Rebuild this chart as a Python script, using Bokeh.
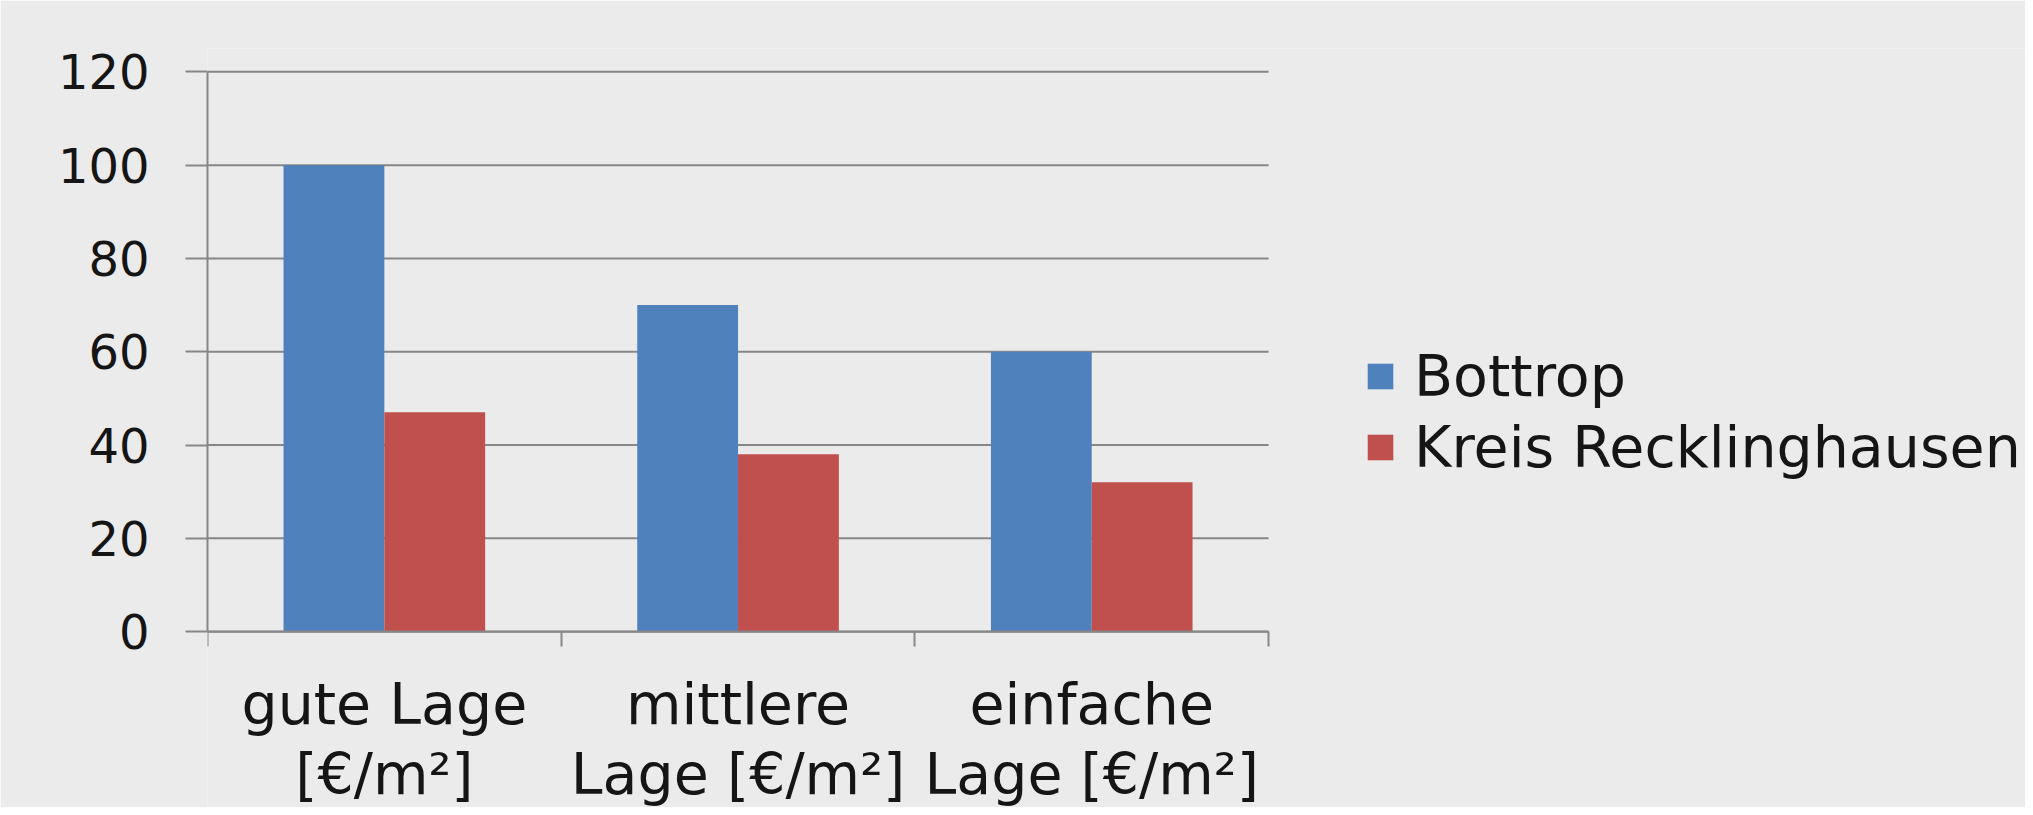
from bokeh.plotting import figure
from bokeh.models import Range1d, FixedTicker, Legend, LegendItem
from bokeh.embed import file_html
from bokeh.resources import INLINE
import numpy as np

# ---- data ----
categories = ["gute Lage\n[€/m²]", "mittlere\nLage [€/m²]", "einfache\nLage [€/m²]"]
series_names = ["Bottrop", "Kreis Recklinghausen"]
bottrop = [100, 70, 60]
recklinghausen = [47, 38, 32]
y_ticks = [0, 20, 40, 60, 80, 100, 120]

# ---- styles ----
BG = "#EBEBEB"
GRID = "#878787"
BLUE = "#4F81BD"
RED = "#C0504D"
FONT = "DejaVu Sans"
TXT = "#151515"

n = len(categories)
centers = np.arange(n) + 0.5
bw = 0.285

# frame spans to the figure bottom; the x axis is pinned at y = 0
p = figure(width=2025, height=807, output_backend="svg", toolbar_location=None,
           x_range=Range1d(0, 5.14), y_range=Range1d(-37.7, 125),
           min_border_left=207, min_border_right=0, min_border_top=48,
           min_border_bottom=0)
p.background_fill_color = BG
p.border_fill_color = BG
p.outline_line_color = None

# horizontal grid lines spanning only the category area
p.xgrid.grid_line_color = None
p.ygrid.grid_line_color = None
p.segment(x0=[0] * len(y_ticks), x1=[n] * len(y_ticks), y0=y_ticks, y1=y_ticks,
          line_color=GRID, line_width=2, level="underlay")

r1 = p.vbar(x=centers - bw / 2, top=bottrop, width=bw, fill_color=BLUE, line_color=None)
r2 = p.vbar(x=centers + bw / 2, top=recklinghausen, width=bw, fill_color=RED, line_color=None)

# y axis
ya = p.yaxis[0]
ya.ticker = FixedTicker(ticks=y_ticks)
ya.bounds = (0, max(y_ticks))
ya.axis_line_color = GRID
ya.axis_line_width = 2
ya.major_tick_line_color = GRID
ya.major_tick_line_width = 2
ya.major_tick_out = 22
ya.major_tick_in = 0
ya.minor_tick_line_color = None
ya.major_label_standoff = 36
ya.major_label_text_font = FONT
ya.major_label_text_font_size = "48px"
ya.major_label_text_color = TXT

# x axis
xa = p.xaxis[0]
xa.fixed_location = 0
xa.ticker = FixedTicker(ticks=list(centers), minor_ticks=list(range(n + 1)))
xa.bounds = (0, n)
xa.major_label_overrides = {float(c): lab for c, lab in zip(centers, categories)}
xa.axis_line_color = GRID
xa.axis_line_width = 2
xa.major_tick_line_color = None
xa.major_tick_out = 0
xa.major_tick_in = 0
xa.minor_tick_line_color = GRID
xa.minor_tick_line_width = 2
xa.minor_tick_out = 15
xa.minor_tick_in = 0
xa.major_label_standoff = 24
xa.major_label_text_font = FONT
xa.major_label_text_font_size = "57px"
xa.major_label_text_line_height = 1.07
xa.major_label_text_color = TXT
xa.major_label_text_align = "center"

legend = Legend(items=[LegendItem(label=series_names[0], renderers=[r1]),
                       LegendItem(label=series_names[1], renderers=[r2])],
                location=(1157, 327), orientation="vertical",
                background_fill_alpha=0, border_line_color=None,
                padding=0, margin=0, spacing=5,
                glyph_width=32, glyph_height=32, label_standoff=18,
                label_height=66,
                label_text_font=FONT, label_text_font_size="57px",
                label_text_color=TXT)
p.add_layout(legend, "center")

open("out.html", "w").write(file_html(p, INLINE))
